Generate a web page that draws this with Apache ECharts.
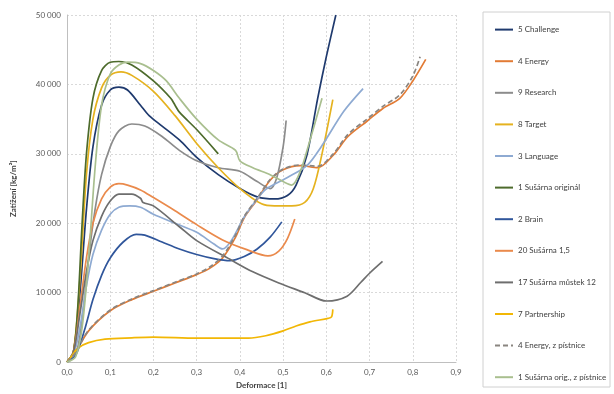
<!DOCTYPE html>
<html>
<head>
<meta charset="utf-8">
<script src="https://cdn.jsdelivr.net/npm/echarts@6/dist/echarts.min.js"></script>
<style>
  html, body { margin: 0; padding: 0; background: #fff; }
  #chart { width: 614px; height: 394px; }
</style>
</head>
<body>
<div id="chart"></div>
<script>
// series names in legend order
const names = [
  '5 Challenge', '4 Energy', '9 Research', '8 Target', '3 Language', '1 Sušárna originál',
  '2 Brain', '20 Sušárna 1,5', '17 Sušárna můstek 12', '7 Partnership',
  '4 Energy, z pístnice', '1 Sušárna orig., z pístnice'
];

// [deformace, zatížení]
const challenge = [[0,0],[0.015,1500],[0.03,10000],[0.045,22000],[0.06,31000],[0.08,37000],[0.1,39200],[0.12,39600],[0.14,39200],[0.17,37000],[0.19,35500],[0.22,34000],[0.26,32000],[0.3,29500],[0.35,27000],[0.4,25000],[0.44,23800],[0.48,23500],[0.51,24000],[0.53,25500],[0.555,29800],[0.58,38000],[0.6,44000],[0.622,50000]];
const energy = [[0,0],[0.02,1500],[0.05,4500],[0.1,7400],[0.15,9000],[0.2,10200],[0.25,11400],[0.3,12600],[0.33,13500],[0.36,15000],[0.39,18000],[0.41,20800],[0.44,23400],[0.47,26200],[0.5,27700],[0.54,28300],[0.58,28000],[0.616,29800],[0.65,32500],[0.694,34700],[0.73,36500],[0.77,38000],[0.8,40500],[0.83,43600]];
const research = [[0,0],[0.02,1000],[0.035,6000],[0.05,15000],[0.065,22000],[0.08,27000],[0.1,31000],[0.12,33300],[0.15,34300],[0.18,34000],[0.22,32500],[0.26,30500],[0.3,29000],[0.35,28000],[0.4,27500],[0.44,26000],[0.47,25000],[0.485,26500],[0.5,31000],[0.507,34800]];
const target = [[0,0],[0.015,1500],[0.03,12000],[0.045,27000],[0.06,35000],[0.08,39500],[0.1,41300],[0.125,41800],[0.15,41300],[0.2,39000],[0.25,35500],[0.3,31500],[0.35,28000],[0.4,25000],[0.45,22800],[0.48,22500],[0.52,22500],[0.55,23000],[0.57,25000],[0.59,30000],[0.615,37800]];
const language = [[0,0],[0.015,1000],[0.03,5000],[0.045,11000],[0.06,15500],[0.08,19000],[0.1,21300],[0.12,22300],[0.145,22500],[0.17,22300],[0.2,21300],[0.25,20000],[0.3,18700],[0.34,17000],[0.36,16300],[0.38,17500],[0.41,20900],[0.44,23500],[0.46,24900],[0.51,26600],[0.555,28300],[0.59,31200],[0.64,36100],[0.685,39400]];
const susarnaOrig = [[0,0],[0.015,1500],[0.025,8000],[0.035,20000],[0.045,30000],[0.06,38000],[0.08,42000],[0.1,43200],[0.12,43300],[0.15,42800],[0.2,40500],[0.24,38000],[0.25,37000],[0.26,36000],[0.3,33500],[0.35,30000]];
const brain = [[0,0],[0.02,1000],[0.04,4500],[0.06,9000],[0.08,12500],[0.1,15000],[0.13,17300],[0.16,18400],[0.18,18300],[0.22,17300],[0.26,16300],[0.3,15500],[0.34,14900],[0.377,14600],[0.41,15200],[0.44,16300],[0.47,18000],[0.497,20200]];
const susarna15 = [[0,0],[0.015,1500],[0.03,8000],[0.045,15000],[0.06,20000],[0.08,23500],[0.1,25200],[0.12,25700],[0.14,25500],[0.17,24800],[0.2,23700],[0.25,21800],[0.3,19800],[0.36,17600],[0.416,16200],[0.465,15300],[0.49,16000],[0.51,17800],[0.527,20600]];
const mustek12 = [[0,0],[0.015,1500],[0.03,7000],[0.045,13000],[0.06,17500],[0.08,21000],[0.1,23200],[0.12,24200],[0.15,24200],[0.17,23600],[0.176,23000],[0.2,22500],[0.26,19500],[0.3,17500],[0.377,14800],[0.43,13000],[0.49,11400],[0.55,10000],[0.6,8800],[0.648,9500],[0.68,11500],[0.7,12800],[0.73,14500]];
const partnership = [[0,0],[0.01,800],[0.025,2000],[0.05,2800],[0.088,3300],[0.15,3500],[0.2,3600],[0.3,3450],[0.42,3450],[0.46,3800],[0.5,4500],[0.53,5200],[0.562,5800],[0.604,6300],[0.612,6500],[0.615,7600]];
const energyPist = [[0,0],[0.02,1400],[0.05,4600],[0.1,7500],[0.15,9100],[0.2,10300],[0.25,11500],[0.3,12700],[0.33,13700],[0.36,15300],[0.39,18300],[0.41,21000],[0.44,23600],[0.47,26300],[0.5,27800],[0.54,28400],[0.58,28200],[0.616,30000],[0.65,32800],[0.694,35000],[0.73,36800],[0.77,38500],[0.8,41200],[0.817,44000]];
const susarnaPist = [[0,0],[0.02,800],[0.035,5000],[0.05,15000],[0.065,28000],[0.08,37000],[0.1,41500],[0.12,42800],[0.14,43200],[0.17,43000],[0.2,42000],[0.23,40500],[0.26,38000],[0.3,35000],[0.35,32000],[0.39,30500],[0.4,29000],[0.43,28000],[0.47,27000],[0.5,26000],[0.52,25500],[0.54,27500],[0.56,31500],[0.59,38000]];

const seriesData = [challenge, energy, research, target, language, susarnaOrig, brain, susarna15, mustek12, partnership, energyPist, susarnaPist];
const colors = ['#1f3a6e', '#e27b35', '#8c8c8c', '#e5b21f', '#8eaad2', '#4d6b2c', '#30569b', '#ea8a4c', '#6e6e6e', '#f2b705', '#8a8580', '#a9bf8f'];

const chart = echarts.init(document.getElementById('chart'));
const font = 'Lato';

chart.setOption({
  animation: false,
  textStyle: { fontFamily: font },
  grid: { left: 67, right: 158, top: 15, bottom: 27 },
  graphic: [{
    type: 'rect',
    shape: { x: 483, y: 12, width: 127, height: 375 },
    style: { fill: 'none', stroke: '#d0d0d0', lineWidth: 1 }
  }],
  legend: {
    orient: 'vertical',
    left: 489,
    top: 19,
    itemGap: 20.4,
    itemWidth: 18,
    itemHeight: 14,
    itemStyle: { opacity: 0 },
    textStyle: { fontSize: 8, color: '#404040', fontFamily: font },
    data: names
  },
  xAxis: {
    type: 'value',
    min: 0, max: 0.9, interval: 0.1,
    name: 'Deformace [1]',
    nameLocation: 'middle',
    nameGap: 17,
    nameTextStyle: { fontSize: 8, fontWeight: 'bold', color: '#404040' },
    axisLine: { lineStyle: { color: '#bfbfbf' } },
    axisTick: { show: false },
    axisLabel: { fontSize: 8, color: '#595959', margin: 6, formatter: v => v.toFixed(1).replace('.', ',') },
    splitLine: { show: true, lineStyle: { color: '#d9d9d9', type: [2, 2] } }
  },
  yAxis: {
    type: 'value',
    min: 0, max: 50000, interval: 10000,
    name: 'Zatížení [kg/m²]',
    nameLocation: 'middle',
    nameGap: 50,
    nameRotate: 90,
    nameTextStyle: { fontSize: 8, fontWeight: 'bold', color: '#404040' },
    axisLine: { show: true, lineStyle: { color: '#bfbfbf' } },
    axisTick: { show: false },
    axisLabel: { fontSize: 8, color: '#595959', margin: 6, formatter: v => String(v).replace(/\B(?=(\d{3})+(?!\d))/g, ' ') },
    splitLine: { show: true, lineStyle: { color: '#d9d9d9', type: [2, 2] } }
  },
  series: names.map((n, i) => ({
    name: n,
    type: 'line',
    data: seriesData[i],
    symbol: 'none',
    smooth: 0.3,
    color: colors[i],
    lineStyle: {
      width: 1.7,
      color: colors[i],
      type: n === '4 Energy, z pístnice' ? [5, 3] : 'solid'
    }
  }))
});
</script>
</body>
</html>
